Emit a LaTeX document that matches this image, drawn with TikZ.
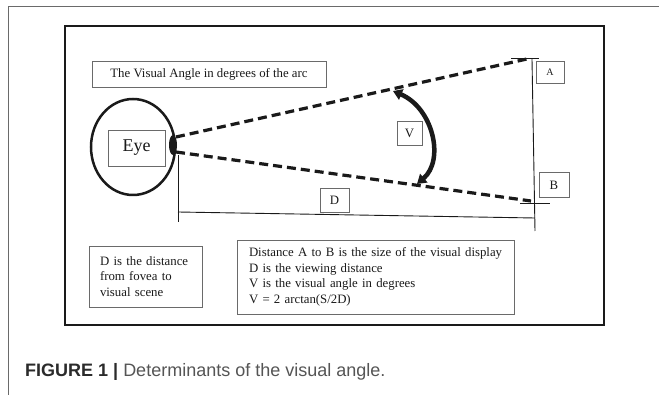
\documentclass[tikz,border=0pt]{standalone}
\usepackage{fontspec}
\setmainfont{Liberation Serif}
\newfontfamily\capfont{Liberation Sans}
\usetikzlibrary{arrows.meta,shapes.geometric}
\definecolor{ink}{HTML}{1A1A1A}
\definecolor{boxline}{HTML}{6A6A6A}
\definecolor{capdark}{HTML}{2B2B2B}
\definecolor{capgray}{HTML}{555555}
\begin{document}
\begin{tikzpicture}[x=1pt,y=-1pt,
  lbl/.style={draw=boxline, line width=0.8pt, inner sep=0pt, font=\fontsize{12.8}{15.5}\selectfont, text=ink},
  txtbox/.style={draw=boxline, line width=0.8pt, inner sep=0pt, align=left, font=\fontsize{12.8}{15.5}\selectfont, text=ink},
  dashline/.style={ink, line width=3.2pt, dash pattern=on 9pt off 5pt},
  thinline/.style={ink, line width=0.9pt}]
\useasboundingbox (0,0) rectangle (659,395);
\fill[white] (0,0) rectangle (659,395);
% outer frame (top and left)
\draw[boxline, line width=1pt] (8,395) -- (8,7) -- (659,7);
% inner frame
\draw[ink, line width=1.2pt] (65,26) rectangle (604,325);
% title
\node[lbl, minimum width=234pt, minimum height=26pt] (title) at (209,74) {The Visual Angle in degrees of the arc};
% eye
\node[draw=ink, line width=2.5pt, ellipse, minimum width=84pt, minimum height=96pt, inner sep=0pt] (eyeball) at (133,147) {};
\node[lbl, minimum width=57pt, minimum height=36pt, font=\fontsize{18}{20}\selectfont] (eye) at (136.5,148) {Eye};
\fill[ink] (173,145) ellipse [x radius=4, y radius=10];
\coordinate (fovUp) at (176,137);
\coordinate (fovDn) at (176,152);
\coordinate (Aend) at (527,59);
\coordinate (Bend) at (531,201);
\draw[dashline] (fovUp) -- (Aend);
\draw[dashline] (fovDn) -- (Bend);
% D measure
\coordinate (dTop) at (178,155);
\coordinate (dBot) at (178,222);
\coordinate (dL) at (178,212);
\coordinate (dR) at (535,218);
\draw[thinline] (dTop) -- (dBot);
\draw[thinline] (dL) -- (dR);
% right vertical with ticks
\coordinate (vTop) at (532,59);
\coordinate (vBot) at (535,231);
\draw[thinline] (vTop) -- (vBot);
\coordinate (tA1) at (511,58);
\coordinate (tA2) at (539,58);
\coordinate (tB1) at (520,203);
\coordinate (tB2) at (550,203);
\draw[thinline] (tA1) -- (tA2);
\draw[thinline] (tB1) -- (tB2);
% labels
\node[lbl, minimum width=28pt, minimum height=22pt, font=\fontsize{10}{12}\selectfont] (A) at (550,72) {A};
\node[lbl, minimum width=30pt, minimum height=25pt] (B) at (554,185) {B};
\node[lbl, minimum width=25pt, minimum height=24pt] (V) at (409.5,133) {V};
\node[lbl, minimum width=29pt, minimum height=24pt] (D) at (334.5,200) {D};
% V arrow
\coordinate (vaTop) at (393,91);
\coordinate (vaBot) at (417,184);
\draw[ink, line width=4.5pt, {Triangle[length=9pt,width=11pt]}-{Triangle[length=9pt,width=11pt]}]
  (vaTop) .. controls (433,108) and (445,160) .. (vaBot);
% bottom boxes
\node[txtbox, minimum width=113pt, minimum height=61pt, text width=91pt] (fovea) at (145.5,276.5)
  {\mbox{D is the distance}\\\mbox{from fovea to}\\\mbox{visual scene}};
\node[txtbox, minimum width=277pt, minimum height=74pt, text width=253pt] (legend) at (375.5,277)
  {\mbox{Distance A to B is the size of the visual display}\\\mbox{D is the viewing distance}\\\mbox{V is the visual angle in degrees}\\\mbox{V = 2 arctan(S/2D)}};
% caption
\node[anchor=base west, inner sep=0pt, font=\capfont\fontsize{18}{20}\selectfont] (cap) at (25,377)
  {\textcolor{capdark}{\bfseries FIGURE 1 |} \textcolor{capgray}{Determinants of the visual angle.}};
\end{tikzpicture}
\end{document}
